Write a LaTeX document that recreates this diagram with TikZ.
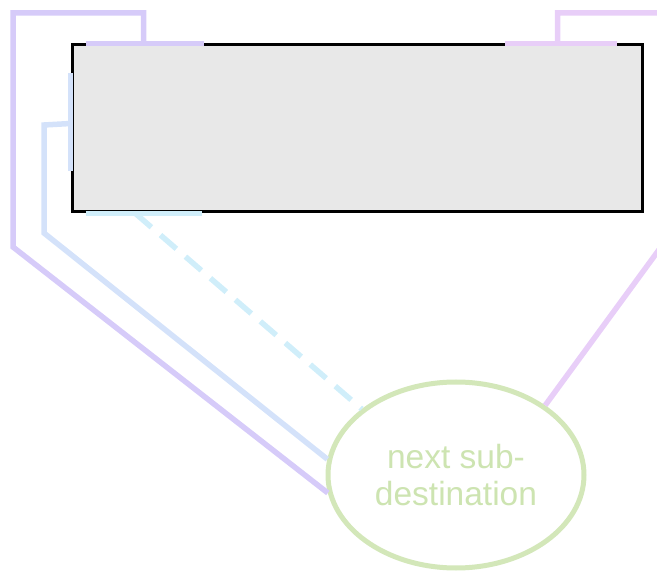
\documentclass[tikz,border=0pt]{standalone}
\usepackage{fontspec}
\setmainfont{Liberation Sans}
\usetikzlibrary{shapes.geometric,calc}

\definecolor{boxfill}{HTML}{E8E8E8}
\definecolor{lavender}{HTML}{D6CBF9}
\definecolor{paleblue}{HTML}{D4E2FA}
\definecolor{palecyan}{HTML}{D0EEFA}
\definecolor{palepink}{HTML}{E8CEF8}
\definecolor{sage}{HTML}{D3E7B9}
\definecolor{sagetext}{HTML}{CDE4B1}

\tikzset{
  panel/.style={draw=black, fill=boxfill, line width=3pt, rectangle,
    minimum width=570pt, minimum height=167pt, inner sep=0pt},
  destnode/.style={draw=sage, line width=5pt, ellipse, fill=white,
    minimum width=256pt, minimum height=186pt, inner sep=0pt,
    text=sagetext, align=center, font=\fontsize{33.5}{37}\selectfont},
  link/.style={line width=5.5pt, line join=miter},
  dashlink/.style={link, dash pattern=on 21pt off 12pt},
}

\begin{document}
\begin{tikzpicture}[x=1pt,y=-1pt]
  \clip (0,0) rectangle (657,572);

  % main block and destination
  \node[panel] (box) at (357,128.5) {};
  \node[destnode] (dest) at (456,475) {next sub-\\destination};

  % attachment points on the block's edges
  \coordinate (topA)  at ($(box.north west)+(73,0)$);
  \coordinate (leftA) at ($(box.north west)+(0,80)$);
  \coordinate (botA)  at ($(box.south west)+(65,0)$);
  \coordinate (topB)  at ($(box.north east)+(-86,0)$);

  % bend points of the routed links
  \coordinate (pa) at (13,13);
  \coordinate (pb) at (13,247);
  \coordinate (ba) at (44,125);
  \coordinate (bb) at (44,233);
  \coordinate (ka) at (680,13);
  \coordinate (kb) at (680,221);

  % edge highlights
  \draw[link, lavender] ($(box.north west)+(15,0)$) -- ($(box.north west)+(133,0)$);
  \draw[link, paleblue] ($(box.north west)+(0,30)$) -- ($(box.north west)+(0,128)$);
  \draw[link, palecyan] ($(box.south west)+(15,0)$) -- ($(box.south west)+(131,0)$);
  \draw[link, palepink] ($(box.north east)+(-139,0)$) -- ($(box.north east)+(-27,0)$);

  % links to the destination
  \draw[link, lavender] (topA) |- (pa) -- (pb) -- (dest.188);
  \draw[link, paleblue] (leftA) -- (ba) -- (bb) -- (dest.173);
  \draw[dashlink, palecyan] (botA) -- (dest.145);
  \draw[link, palepink] (topB) |- (ka) -- (kb) -- (dest.38);
\end{tikzpicture}
\end{document}
